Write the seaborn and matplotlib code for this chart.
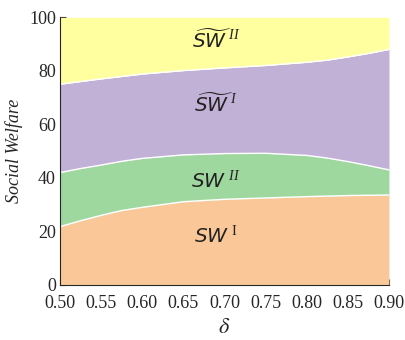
import numpy as np
import matplotlib
matplotlib.use("Agg")
import matplotlib.pyplot as plt
from matplotlib.ticker import MultipleLocator, FormatStrFormatter
import seaborn as sns

sns.set_style("ticks")
plt.rcParams["font.family"] = ["Liberation Serif", "DejaVu Serif"]
plt.rcParams.update({"mathtext.fontset": "custom",
                     "mathtext.it": "DejaVu Sans:italic",
                     "mathtext.rm": "Liberation Serif",
                     "mathtext.sf": "Liberation Serif:italic"})

# boundaries
delta = [0.50, 0.525, 0.55, 0.575, 0.60, 0.65, 0.70, 0.75, 0.80, 0.825, 0.85, 0.875, 0.90]
top_sw1 = [21.8, 24.0, 26.0, 27.8, 29.0, 31.1, 32.0, 32.5, 33.0, 33.2, 33.4, 33.5, 33.6]
top_sw2 = [42.0, 43.5, 44.8, 46.2, 47.3, 48.6, 49.1, 49.2, 48.4, 47.4, 46.1, 44.6, 43.0]
top_sw1t = [75.0, 76.0, 77.0, 77.9, 78.8, 80.1, 81.1, 82.0, 83.2, 84.0, 85.2, 86.5, 88.0]
top_all = [100] * len(delta)

ORANGE, GREEN, PURPLE, YELLOW = "#fac898", "#9fd89f", "#c1b1d6", "#ffffa0"

fig = plt.figure(figsize=(4.06, 3.40), dpi=100)
ax = fig.add_axes([0.148, 0.162, 0.81, 0.787])

x = np.array(delta)
layers = [(np.zeros(len(x)), top_sw1, ORANGE), (top_sw1, top_sw2, GREEN),
          (top_sw2, top_sw1t, PURPLE), (top_sw1t, top_all, YELLOW)]
for lo, hi, c in layers:
    ax.fill_between(x, lo, hi, color=c, lw=0)
for b in (top_sw1, top_sw2, top_sw1t):
    sns.lineplot(x=x, y=b, ax=ax, color="white", lw=1)

lab = dict(ha="center", va="center", fontsize=14.5, color="#222")
ax.text(0.69, 91, r"$\widetilde{SW}^{\;\mathsf{II}}$", **lab)
ax.text(0.69, 67, r"$\widetilde{SW}^{\;\mathsf{I}}$", **lab)
ax.text(0.69, 38.5, r"$SW^{\;\mathsf{II}}$", **lab)
ax.text(0.69, 18, r"$SW^{\;\mathrm{I}}$", **lab)

ax.set_xlim(0.5, 0.9)
ax.set_ylim(0, 100)
ax.xaxis.set_major_locator(MultipleLocator(0.05))
ax.xaxis.set_minor_locator(MultipleLocator(0.025))
ax.yaxis.set_major_locator(MultipleLocator(20))
ax.yaxis.set_minor_locator(MultipleLocator(10))
ax.xaxis.set_major_formatter(FormatStrFormatter("%.2f"))
ax.tick_params(which="both", direction="in", labelsize=13, width=0.8)
ax.tick_params(which="major", length=4)
ax.tick_params(which="minor", length=2)
ax.tick_params(axis="x", pad=7)
ax.tick_params(axis="y", pad=3)
sns.despine(ax=ax)
ax.set_xlabel(r"$\delta$", fontsize=16, labelpad=5,
              math_fontfamily="stix")
ax.set_ylabel("Social Welfare", fontsize=13, style="italic", labelpad=4)

fig.savefig("out.png", dpi=100)
